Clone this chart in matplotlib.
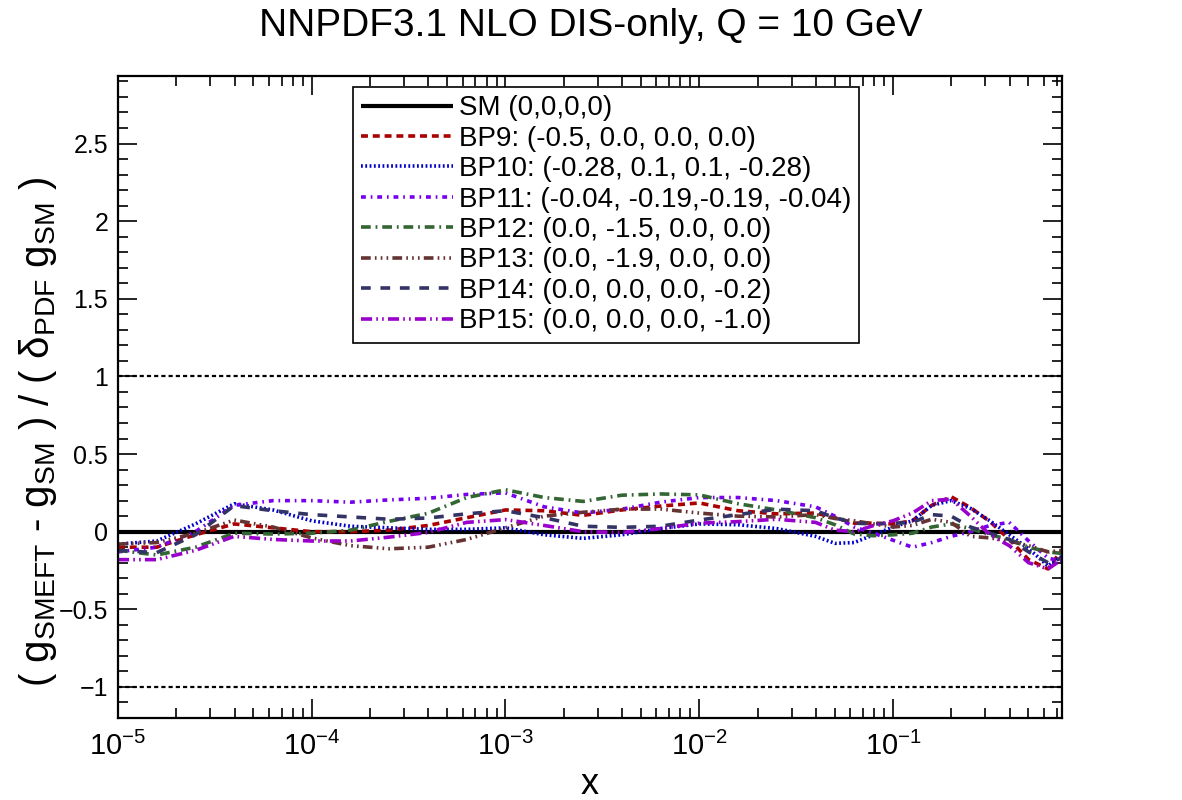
import numpy as np
import matplotlib
matplotlib.use("Agg")
import matplotlib.pyplot as plt
from matplotlib.ticker import MultipleLocator, LogLocator, NullFormatter

plt.rcParams['font.family'] = ['Liberation Sans', 'DejaVu Sans']
plt.rcParams['mathtext.fontset'] = 'custom'
plt.rcParams['mathtext.rm'] = 'Liberation Sans'
plt.rcParams['mathtext.it'] = 'Liberation Sans'
plt.rcParams['mathtext.default'] = 'regular'
plt.rcParams['lines.scale_dashes'] = False

# log10(x) grid the curves were read on
logx = [-5.0, -4.8, -4.6, -4.4, -4.2, -4.0, -3.8, -3.6, -3.4, -3.2,
        -3.0, -2.8, -2.6, -2.4, -2.2, -2.0, -1.8, -1.6, -1.4, -1.3,
        -1.2, -1.1, -1.0, -0.9, -0.8, -0.7, -0.6, -0.5, -0.4, -0.3,
        -0.2, -0.13]

bp9 = [-0.10, -0.10, -0.02, 0.05, 0.025, 0.0, 0.0, 0.01, 0.04, 0.09,
       0.14, 0.135, 0.105, 0.14, 0.165, 0.185, 0.135, 0.115, 0.12, 0.09,
       0.055, 0.055, 0.05, 0.07, 0.17, 0.225, 0.155, 0.065, -0.05, -0.18,
       -0.24, -0.12]
bp10 = [-0.08, -0.06, 0.05, 0.18, 0.14, 0.07, 0.035, 0.025, 0.015, 0.015,
        0.025, -0.02, -0.043, -0.02, 0.02, 0.05, 0.045, 0.02, -0.03, -0.075,
        -0.07, -0.02, 0.03, 0.07, 0.17, 0.2, 0.15, 0.07, -0.02, -0.11,
        -0.22, -0.16]
bp11 = [-0.13, -0.10, 0.0, 0.17, 0.2, 0.2, 0.19, 0.205, 0.215, 0.24,
        0.25, 0.16, 0.12, 0.145, 0.19, 0.22, 0.22, 0.2, 0.16, 0.1,
        0.03, -0.01, -0.055, -0.1, -0.07, -0.03, 0.0, 0.04, 0.06, -0.06,
        -0.17, -0.19]
bp12 = [-0.12, -0.15, -0.10, -0.01, -0.015, -0.01, 0.01, 0.067, 0.118, 0.22,
        0.27, 0.22, 0.195, 0.235, 0.243, 0.237, 0.18, 0.14, 0.09, 0.045,
        -0.015, -0.026, -0.02, -0.01, 0.03, 0.05, 0.02, -0.02, -0.05, -0.1,
        -0.13, -0.14]
bp13 = [-0.08, -0.07, -0.01, 0.075, 0.03, -0.04, -0.09, -0.11, -0.10, -0.05,
        0.025, 0.1, 0.125, 0.145, 0.146, 0.12, 0.1, 0.095, 0.11, 0.085,
        0.07, 0.05, 0.03, 0.04, 0.08, 0.06, -0.03, -0.04, -0.06, -0.09,
        -0.13, -0.12]
bp14 = [-0.12, -0.135, -0.02, 0.168, 0.135, 0.11, 0.095, 0.08, 0.088, 0.115,
        0.135, 0.09, 0.035, 0.028, 0.035, 0.075, 0.11, 0.145, 0.135, 0.09,
        0.055, 0.05, 0.055, 0.06, 0.11, 0.1, 0.03, -0.01, -0.05, -0.13,
        -0.2, -0.17]
bp15 = [-0.18, -0.18, -0.12, -0.03, -0.05, -0.06, -0.06, -0.035, -0.005, 0.06,
        0.078, 0.04, 0.0, -0.005, 0.02, 0.055, 0.065, 0.08, 0.06, 0.01,
        0.0, 0.04, 0.07, 0.12, 0.2, 0.21, 0.1, -0.02, -0.09, -0.2,
        -0.24, -0.18]

labels = ["SM (0,0,0,0)",
          "BP9: (-0.5, 0.0, 0.0, 0.0)",
          "BP10: (-0.28, 0.1, 0.1, -0.28)",
          "BP11: (-0.04, -0.19,-0.19, -0.04)",
          "BP12: (0.0, -1.5, 0.0, 0.0)",
          "BP13: (0.0, -1.9, 0.0, 0.0)",
          "BP14: (0.0, 0.0, 0.0, -0.2)",
          "BP15: (0.0, 0.0, 0.0, -1.0)"]

x = 10.0 ** np.array(logx)
xmin, xmax = 1e-5, 0.745

fig = plt.figure(figsize=(11.82, 8), dpi=100)
ax = fig.add_axes([0.0998, 0.1025, 0.7987, 0.8025])

# reference lines at +-1
ax.axhline(1, color='black', lw=1.6, dashes=(3, 2.2))
ax.axhline(-1, color='black', lw=1.6, dashes=(3, 2.2))

series = [bp9, bp10, bp11, bp12, bp13, bp14, bp15]
colors = ['#aa0000', '#0000cc', '#7700ee', '#336633', '#663333', '#333366', '#9900cc']
styles = [(5, 3.5), (1.3, 1.8), (3.5, 3.5, 1.2, 3.5), (7, 3.5, 1.3, 3.5),
          (7, 3, 1.2, 3, 1.2, 3, 1.2, 3), (7, 7), (8, 3, 1.2, 3, 1.2, 3)]

sm, = ax.plot([xmin, xmax], [0, 0], color='black', lw=3.0, solid_capstyle='butt',
              label=labels[0])
handles = [sm]
for ys, c, d, lab in zip(series, colors, styles, labels[1:]):
    h, = ax.plot(x, ys, color=c, lw=2.6, dashes=d, dash_capstyle='butt', label=lab)
    handles.append(h)

ax.set_xscale('log')
ax.set_xlim(xmin, xmax)
ax.set_ylim(-1.2, 2.935)
ax.yaxis.set_major_locator(MultipleLocator(0.5))
ax.yaxis.set_minor_locator(MultipleLocator(0.1))
ax.xaxis.set_major_locator(LogLocator(base=10, numticks=10))
ax.xaxis.set_minor_locator(LogLocator(base=10, subs=np.arange(2, 10), numticks=20))
ax.xaxis.set_minor_formatter(NullFormatter())
ax.set_yticks([-1, -0.5, 0, 0.5, 1, 1.5, 2, 2.5])
ax.set_yticklabels(['\u22121', '\u22120.5', '0', '0.5', '1', '1.5', '2', '2.5'])

ax.tick_params(which='both', direction='in', top=True, right=True, width=1.2)
ax.tick_params(which='major', length=13.5)
ax.tick_params(which='minor', length=7)
ax.tick_params(axis='x', which='major', labelsize=21, pad=10)
ax.tick_params(axis='y', which='major', labelsize=18, pad=7)
for s in ax.spines.values():
    s.set_linewidth(1.6)

ax.set_xlabel('x', fontsize=26, va='baseline')
ax.xaxis.set_label_coords(0.5, -0.118)
ax.set_ylabel(r'( g$_{SMEFT}$ - g$_{SM}$ ) / ( $\delta_{PDF}$ g$_{SM}$ )',
              fontsize=29)
ax.yaxis.set_label_coords(-0.062, 0.445)
fig.suptitle('NNPDF3.1 NLO DIS-only, Q = 10 GeV', fontsize=28, x=0.5, y=0.99)

leg = ax.legend(handles=handles, loc='upper left', bbox_to_anchor=(0.249, 0.983),
                fontsize=20, handlelength=3.3, labelspacing=0.16, borderpad=0.3,
                handletextpad=0.2, borderaxespad=0, fancybox=False,
                edgecolor='black', framealpha=1)
leg.get_frame().set_linewidth(1.2)

fig.savefig('out.png', dpi=100)
